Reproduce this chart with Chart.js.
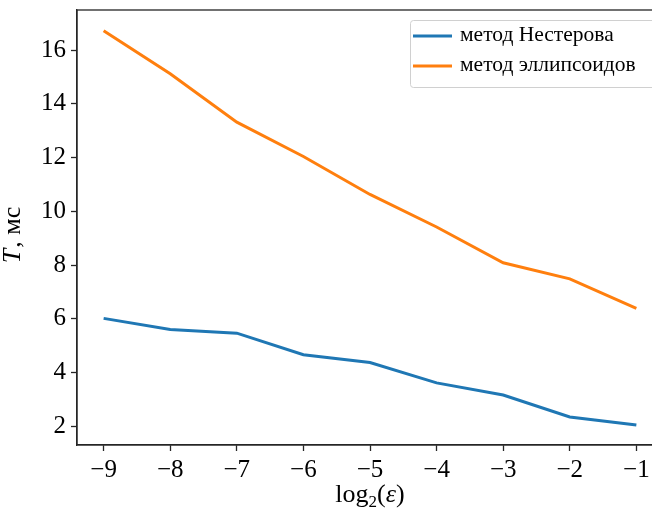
<!DOCTYPE html>
<html>
<head>
<meta charset="utf-8">
<script src="https://cdn.jsdelivr.net/npm/chart.js@4.4.0/dist/chart.umd.min.js"></script>
<style>
  html, body { margin: 0; padding: 0; background: #fff; }
  #wrap { width: 652px; height: 516px; overflow: hidden; position: relative; }
  #wrap canvas { position: absolute; left: 0; top: 0; }
</style>
</head>
<body>
<div id="wrap"><canvas id="chart" width="680" height="516"></canvas></div>
<script>
// log2(eps) values
const logEps = [-9, -8, -7, -6, -5, -4, -3, -2, -1];
// time, ms
const nesterov = [6.02, 5.61, 5.47, 4.67, 4.38, 3.62, 3.17, 2.35, 2.05];
const ellipsoid = [16.72, 15.12, 13.32, 12.04, 10.63, 9.42, 8.09, 7.49, 6.39];
const yTicks = [2, 4, 6, 8, 10, 12, 14, 16];
const seriesNames = ["метод Нестерова", "метод эллипсоидов"];

const FONT = "'Liberation Serif', 'Times New Roman', serif";
const BLUE = "#1f77b4";
const ORANGE = "#ff7f0e";

Chart.defaults.font.family = FONT;

const toPoints = ys => logEps.map((x, i) => ({ x: x, y: ys[i] }));
const minus = v => String(v).replace("-", "\u2212");

// frame, axis titles and legend box, drawn like matplotlib does
const decor = {
  id: "decor",
  afterDraw(chart) {
    const ctx = chart.ctx;
    const a = chart.chartArea;
    ctx.save();
    ctx.strokeStyle = "#262626";
    ctx.lineWidth = 1.3;
    ctx.strokeRect(a.left, a.top, a.right - a.left, a.bottom - a.top);

    // x title: log2(eps)
    ctx.fillStyle = "#000";
    ctx.textBaseline = "alphabetic";
    ctx.textAlign = "left";
    const parts = [
      ["log", "26px " + FONT, 0],
      ["2", "17px " + FONT, 5],
      ["(", "26px " + FONT, 0],
      ["ε", "italic 26px " + FONT, 0],
      [")", "26px " + FONT, 0]
    ];
    let w = 0;
    parts.forEach(p => { ctx.font = p[1]; w += ctx.measureText(p[0]).width; });
    let x = (a.left + a.right) / 2 - w / 2;
    parts.forEach(p => {
      ctx.font = p[1];
      ctx.fillText(p[0], x, 502 + p[2]);
      x += ctx.measureText(p[0]).width;
    });

    // y title: T, мс
    ctx.translate(20, 235);
    ctx.rotate(-Math.PI / 2);
    const yparts = [["T", "italic 26px " + FONT, 1], [", мс", "26px " + FONT, 0]];
    w = 0;
    yparts.forEach(p => { ctx.font = p[1]; w += ctx.measureText(p[0]).width + p[2]; });
    x = -w / 2;
    yparts.forEach(p => {
      ctx.font = p[1];
      ctx.fillText(p[0], x, 0);
      x += ctx.measureText(p[0]).width + p[2];
    });
    ctx.restore();

    // legend
    ctx.save();
    const lx = 410, ly = 20, lw = 250, lh = 67;
    ctx.fillStyle = "rgba(255,255,255,0.8)";
    ctx.strokeStyle = "#d0d0d0";
    ctx.lineWidth = 1;
    ctx.beginPath();
    ctx.roundRect(lx + 0.5, ly + 0.5, lw, lh, 3);
    ctx.fill();
    ctx.stroke();
    ctx.font = "21.5px " + FONT;
    ctx.textBaseline = "middle";
    ctx.fillStyle = "#000";
    chart.data.datasets.forEach((ds, i) => {
      const yy = 36 + i * 30;
      ctx.strokeStyle = ds.borderColor;
      ctx.lineWidth = 3;
      ctx.beginPath();
      ctx.moveTo(413, yy);
      ctx.lineTo(452, yy);
      ctx.stroke();
      ctx.fillText(ds.label, 460, yy - 1);
    });
    ctx.restore();
  }
};

new Chart(document.getElementById("chart"), {
  type: "line",
  data: {
    datasets: [
      { label: seriesNames[0], data: toPoints(nesterov), borderColor: BLUE, backgroundColor: BLUE },
      { label: seriesNames[1], data: toPoints(ellipsoid), borderColor: ORANGE, backgroundColor: ORANGE }
    ]
  },
  options: {
    responsive: false,
    animation: false,
    events: [],
    layout: { padding: { left: 0, top: 10, right: 17, bottom: 0 } },
    elements: {
      line: { borderWidth: 3, tension: 0 },
      point: { radius: 0 }
    },
    plugins: { legend: { display: false }, tooltip: { enabled: false } },
    scales: {
      x: {
        type: "linear",
        min: -9.4,
        max: -0.6,
        afterFit: s => { s.height = 71; s.paddingLeft = 0; s.paddingRight = 0; },
        afterBuildTicks: s => { s.ticks = logEps.map(v => ({ value: v })); },
        border: { display: true, color: "#262626", width: 1.3 },
        grid: { drawOnChartArea: false, drawTicks: true, tickLength: 6, color: "#262626", tickWidth: 1.3 },
        ticks: {
          color: "#000",
          font: { family: FONT, size: 25 },
          padding: 4,
          maxRotation: 0,
          callback: v => minus(v)
        }
      },
      y: {
        type: "linear",
        min: 1.31,
        max: 17.49,
        afterFit: s => { s.width = 77; s.paddingTop = 0; s.paddingBottom = 0; },
        afterBuildTicks: s => { s.ticks = yTicks.map(v => ({ value: v })); },
        border: { display: true, color: "#262626", width: 1.3 },
        grid: { drawOnChartArea: false, drawTicks: true, tickLength: 6, color: "#262626", tickWidth: 1.3 },
        ticks: {
          color: "#000",
          font: { family: FONT, size: 25 },
          padding: 5,
          callback: v => String(v)
        }
      }
    }
  },
  plugins: [decor]
});
</script>
</body>
</html>
